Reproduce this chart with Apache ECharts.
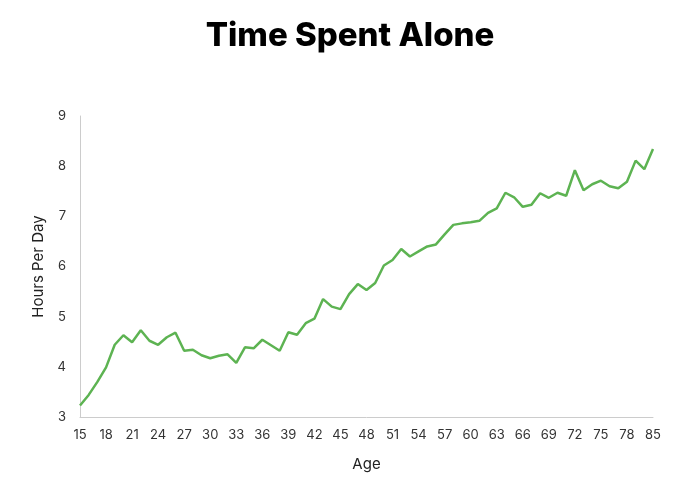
<!DOCTYPE html>
<html>
<head>
<meta charset="utf-8">
<script src="https://cdn.jsdelivr.net/npm/echarts@6/dist/echarts.min.js"></script>
<style>
html,body{margin:0;padding:0;background:#fff;}
#chart{width:700px;height:477px;}
</style>
</head>
<body>
<div id="chart"></div>
<script>
const ages = [15,16,17,18,19,20,21,22,23,24,25,26,27,28,29,30,31,32,33,34,35,36,37,38,39,40,41,42,43,44,45,46,47,48,49,50,51,52,53,54,55,56,57,58,59,60,61,62,63,64,65,66,67,68,69,70,71,72,73,74,75,76,77,78,79,80,85];
const hours = [3.23,3.44,3.70,3.99,4.44,4.63,4.49,4.73,4.52,4.44,4.59,4.68,4.32,4.34,4.23,4.17,4.22,4.25,4.08,4.39,4.37,4.54,4.43,4.32,4.69,4.64,4.87,4.96,5.35,5.20,5.15,5.45,5.65,5.53,5.67,6.02,6.13,6.35,6.20,6.30,6.40,6.44,6.64,6.83,6.86,6.88,6.91,7.07,7.16,7.47,7.38,7.19,7.23,7.46,7.37,7.47,7.41,7.92,7.52,7.64,7.71,7.60,7.56,7.69,8.11,7.94,8.34];
const titleText = 'Time Spent Alone';
const xName = 'Age';
const yName = 'Hours Per Day';

const chart = echarts.init(document.getElementById('chart'), null, {renderer:'canvas'});
const font = 'Inter, "Noto Sans", sans-serif';
chart.setOption({
  backgroundColor:'#fff',
  title:{text:titleText,left:'center',top:15,textStyle:{fontFamily:font,fontWeight:800,fontSize:33,color:'#000'}},
  grid:{left:80,right:47,top:116,bottom:60},
  xAxis:{type:'category',data:ages,boundaryGap:false,
    name:xName,nameLocation:'middle',nameGap:40,
    nameTextStyle:{fontFamily:font,fontSize:15,color:'#222'},
    axisLine:{lineStyle:{color:'#ccc'}},axisTick:{show:false},
    axisLabel:{interval:2,fontFamily:font,fontSize:13,color:'#333',margin:12},
    splitLine:{show:false}},
  yAxis:{type:'value',min:3,max:9,interval:1,
    name:yName,nameLocation:'middle',nameGap:34,
    nameTextStyle:{fontFamily:font,fontSize:15,color:'#222'},
    axisLine:{show:true,lineStyle:{color:'#ccc'}},axisTick:{show:false},
    axisLabel:{fontFamily:font,fontSize:13,color:'#333',margin:14},
    splitLine:{show:false}},
  series:[{type:'line',data:hours,showSymbol:false,symbol:'none',
    lineStyle:{color:'#5db352',width:2.5},itemStyle:{color:'#5db352'}}],
  animation:false
});
</script>
</body>
</html>
